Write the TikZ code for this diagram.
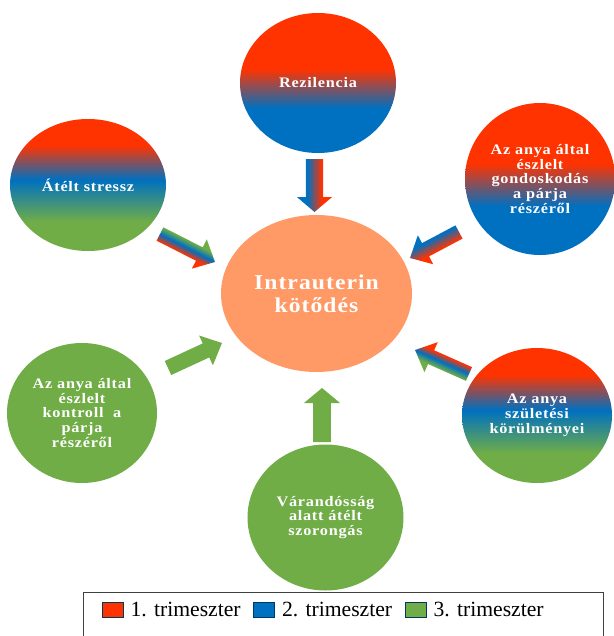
\documentclass[tikz,border=0pt]{standalone}
\usepackage{fontspec}
\setmainfont{Liberation Serif}
\newfontfamily\bubblefont[FakeStretch=1.12,LetterSpace=5]{Liberation Serif}
\usepackage{tikz}
\usetikzlibrary{shapes.geometric,positioning}
\definecolor{myred}{HTML}{FF3300}
\definecolor{myblue}{HTML}{0070C0}
\definecolor{mygreen}{HTML}{70AD47}
\definecolor{mysalmon}{HTML}{FF9966}
\definecolor{legline}{gray}{0.25}

% colour bands of the bubbles (bottom = 25bp, top = 75bp)
\pgfdeclareverticalshading{ellrb}{100bp}{color(0bp)=(myblue); color(41bp)=(myblue); color(55bp)=(myred); color(100bp)=(myred)}
\pgfdeclareverticalshading{ellrbg}{100bp}{color(0bp)=(mygreen); color(36bp)=(mygreen); color(52bp)=(myblue); color(65bp)=(myred); color(100bp)=(myred)}
% colour bands across the arrows
\pgfdeclareverticalshading{arrbr}{100bp}{color(0bp)=(myblue); color(40bp)=(myblue); color(60bp)=(myred); color(100bp)=(myred)}
\pgfdeclareverticalshading{arrrbg}{100bp}{color(0bp)=(myred); color(39bp)=(myred); color(50bp)=(myblue); color(61bp)=(mygreen); color(100bp)=(mygreen)}

\tikzset{
  bubble/.style={ellipse, inner sep=0pt, align=center, text=white,
    font=\bubblefont\bfseries\fontsize{12.4}{12.6}\selectfont},
  rbbubble/.style={bubble, shade, shading=ellrb},
  rbgbubble/.style={bubble, shade, shading=ellrbg},
  gbubble/.style={bubble, fill=mygreen},
  rbarrow/.style={shade, shading=arrbr},
  rbgarrow/.style={shade, shading=arrrbg},
  garrow/.style={fill=mygreen},
  legsq/.style={draw=myblue!50!black, line width=0.5pt, minimum width=0.63cm, minimum height=0.45cm, inner sep=0pt},
  legtext/.style={inner sep=0pt, font=\fontsize{18.5}{20}\selectfont}
}

% block arrow from #1 (tail) to #2 (tip); #4 shaft, #5 head half width, #6 head length
\newdimen\arrdx
\newdimen\arrdy
\newcommand\blockarrow[6]{%
  \pgfextractx{\arrdx}{\pgfpointdiff{\pgfpointanchor{#1}{center}}{\pgfpointanchor{#2}{center}}}%
  \pgfextracty{\arrdy}{\pgfpointdiff{\pgfpointanchor{#1}{center}}{\pgfpointanchor{#2}{center}}}%
  \pgfmathsetmacro\arrlen{veclen(\arrdx,\arrdy)}%
  \pgfmathsetmacro\arrang{atan2(\arrdy,\arrdx)}%
  \begin{scope}[transform canvas={shift={(#1)},rotate=\arrang}]
    \path[#3] (0pt,-#4) -- ({\arrlen pt-#6},-#4) -- ({\arrlen pt-#6},-#5) -- (\arrlen pt,0pt)
      -- ({\arrlen pt-#6},#5) -- ({\arrlen pt-#6},#4) -- (0pt,#4) -- cycle;
  \end{scope}}

\begin{document}
\begin{tikzpicture}[x=0.03cm,y=-0.03cm]
  \useasboundingbox (0,0) rectangle (614,636);

  % bubbles
  \node[fill=mysalmon, ellipse, inner sep=0pt, minimum width=5.73cm, minimum height=4.71cm, align=center, text=white,
    font=\bubblefont\bfseries\fontsize{18}{19.5}\selectfont] (intra) at (316.5,293.5) {Intrauterin\\kötődés};
  \node[rbbubble, minimum width=4.68cm, minimum height=4.2cm] (rez) at (318,83) {Rezilencia};
  \node[rbgbubble, minimum width=4.68cm, minimum height=3.96cm] (stressz) at (88,185) {Átélt stressz};
  \node[rbbubble, minimum width=4.5cm, minimum height=4.56cm] (gond) at (540,179)
    {Az anya által\\észlelt\\gondoskodás\\a párja\\részéről};
  \node[gbubble, minimum width=4.5cm, minimum height=4.2cm] (kontroll) at (82,413)
    {Az anya által\\észlelt\\kontroll~ a\\párja\\részéről};
  \node[rbgbubble, minimum width=4.5cm, minimum height=4.05cm] (szul) at (537,415.5)
    {Az anya\\születési\\körülményei};
  \node[gbubble, minimum width=4.68cm, minimum height=4.38cm] (szorong) at (325.5,517.5)
    {Várandósság\\alatt átélt\\szorongás};

  % arrow ends
  \coordinate (rezA) at (314.5,159);    \coordinate (rezB) at (314.5,212);
  \coordinate (stresszA) at (160,234);  \coordinate (stresszB) at (215,262);
  \coordinate (gondA) at (459,232);     \coordinate (gondB) at (410,258);
  \coordinate (kontrollA) at (168,368); \coordinate (kontrollB) at (222,343);
  \coordinate (szulA) at (469,374);     \coordinate (szulB) at (415,350);
  \coordinate (szorongA) at (322,442);  \coordinate (szorongB) at (322,388);

  \blockarrow{rezA}{rezB}{rbarrow}{7.3pt}{15pt}{12.8pt}
  \blockarrow{szorongA}{szorongB}{garrow}{7.6pt}{15.4pt}{12.8pt}
  \blockarrow{stresszA}{stresszB}{rbgarrow}{6.4pt}{14pt}{15pt}
  \blockarrow{gondA}{gondB}{rbarrow}{6.4pt}{14pt}{15pt}
  \blockarrow{kontrollA}{kontrollB}{garrow}{6.6pt}{14pt}{15pt}
  \blockarrow{szulA}{szulB}{rbgarrow}{6.4pt}{14pt}{15pt}

  % legend
  \node[draw=legline, line width=1.2pt, anchor=north west, minimum width=15.6cm, minimum height=1.5cm] (legend) at (83,592) {};
  \node[legsq, fill=myred] (sq1) at (112.5,609.5) {};
  \node[legtext, right=6pt of sq1] (lab1) {1. trimeszter};
  \node[legsq, fill=myblue] (sq2) at (264,609.5) {};
  \node[legtext, right=6pt of sq2] (lab2) {2. trimeszter};
  \node[legsq, fill=mygreen] (sq3) at (415.5,609.5) {};
  \node[legtext, right=6pt of sq3] (lab3) {3. trimeszter};
\end{tikzpicture}
\end{document}
